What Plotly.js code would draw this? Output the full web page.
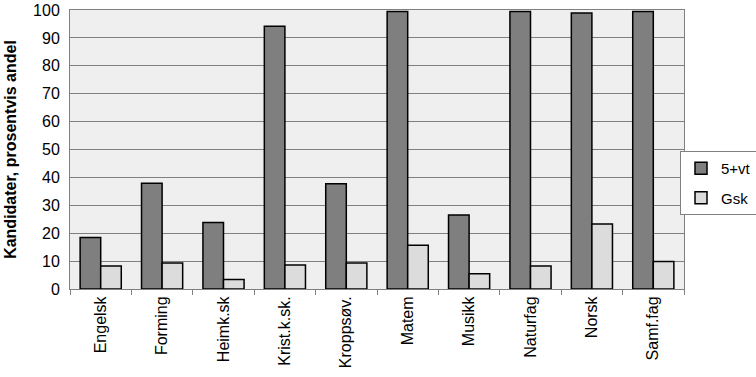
<!DOCTYPE html>
<html><head><meta charset="utf-8">
<script src="https://cdn.plot.ly/plotly-3.0.1.min.js"></script>
<style>html,body{margin:0;padding:0;background:#fff}#c{width:756px;height:377px}</style>
</head><body><div id="c"></div>
<script>
const categories = ["Engelsk","Forming","Heimk.sk","Krist.k.sk.","Kroppsøv.","Matem","Musikk","Naturfag","Norsk","Samf.fag"];
const vt5 = [18.5, 37.9, 23.8, 94.2, 37.7, 99.5, 26.5, 99.5, 98.9, 99.5];
const gsk = [8.2, 9.3, 3.4, 8.6, 9.3, 15.7, 5.5, 8.2, 23.3, 9.9];

const traces = [
  {type:"bar", name:"5+vt", x:categories, y:vt5, legendgroup:"a",
   marker:{color:"#7f7f7f", line:{color:"#000", width:1.5}}},
  {type:"bar", name:"Gsk", x:categories, y:gsk, legendgroup:"b",
   marker:{color:"#dcdcdc", line:{color:"#000", width:1.5}}}
];
const layout = {
  width:756, height:377,
  margin:{l:70, r:72, t:10, b:88, autoexpand:false},
  paper_bgcolor:"#ffffff", plot_bgcolor:"#efefef",
  font:{family:"Liberation Sans, Arial, sans-serif", color:"#000"},
  bargap:0.33, bargroupgap:0,
  showlegend:true,
  legend:{x:0.9935, xanchor:"left", y:0.38, yanchor:"middle",
    bordercolor:"#808080", borderwidth:1, bgcolor:"#fff",
    font:{size:15}, tracegroupgap:7, itemwidth:30},
  xaxis:{type:"category", tickangle:-90, tickfont:{size:16},
    showline:true, linecolor:"#808080", linewidth:1, mirror:true,
    ticks:"outside", tickson:"boundaries", ticklen:5, tickcolor:"#808080",
    showgrid:false},
  yaxis:{range:[0,100], dtick:10, tickfont:{size:16}, ticklabelstandoff:6,
    showline:true, linecolor:"#808080", linewidth:1, mirror:true,
    showgrid:true, gridcolor:"#808080", gridwidth:1, ticks:"", zeroline:false,
    title:{text:"Kandidater, prosentvis andel", font:{size:16, weight:"bold"}, standoff:12}}
};
Plotly.newPlot("c", traces, layout, {displayModeBar:false});
</script></body></html>
